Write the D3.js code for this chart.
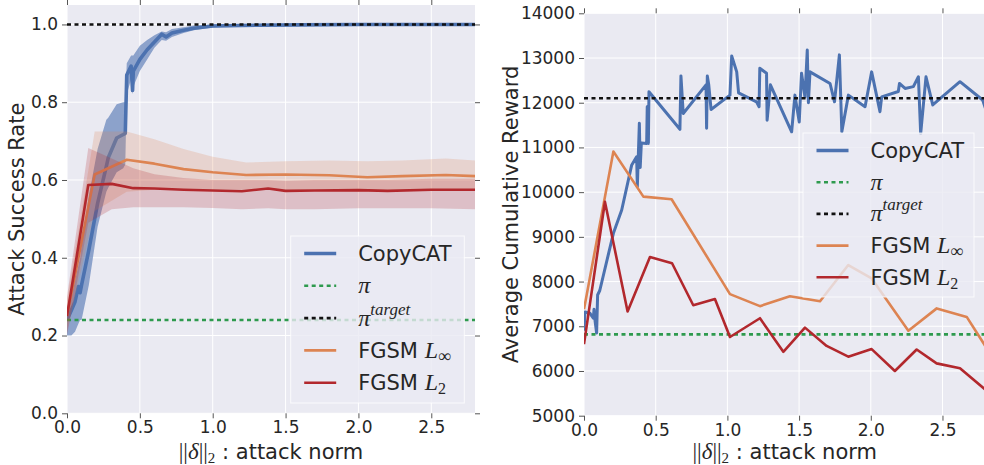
<!DOCTYPE html>
<html>
<head>
<meta charset="utf-8">
<script src="https://cdn.jsdelivr.net/npm/d3@7"></script>
<style>
  body { margin: 0; background: #fff; }
  text { font-family: "DejaVu Sans", sans-serif; fill: #262626; }
</style>
</head>
<body>
<div id="wrapper"></div>
<script>
// ---- Left panel: attack success rate ----
const blueX    = [0, 0.03, 0.055, 0.078, 0.09, 0.1, 0.15, 0.21, 0.27, 0.283, 0.341, 0.386, 0.4, 0.41, 0.44, 0.45, 0.455, 0.5, 0.55, 0.6, 0.65, 0.68, 0.72, 0.8, 0.87, 1.0, 1.3, 1.6, 2.0, 2.4, 2.8];
const blueMean = [0.24, 0.265, 0.287, 0.326, 0.31, 0.33, 0.42, 0.54, 0.635, 0.657, 0.708, 0.717, 0.72, 0.87, 0.893, 0.83, 0.88, 0.91, 0.935, 0.955, 0.975, 0.968, 0.978, 0.985, 0.99, 0.996, 0.998, 0.999, 1.0, 1.0, 1.0];
const blueLo   = [0.2, 0.2, 0.21, 0.23, 0.24, 0.24, 0.33, 0.48, 0.57, 0.58, 0.62, 0.63, 0.64, 0.82, 0.86, 0.82, 0.84, 0.88, 0.91, 0.94, 0.96, 0.958, 0.968, 0.978, 0.985, 0.992, 0.995, 0.996, 0.997, 0.997, 0.997];
const blueHi   = [0.27, 0.3, 0.34, 0.38, 0.4, 0.43, 0.56, 0.68, 0.755, 0.76, 0.795, 0.8, 0.8, 0.9, 0.92, 0.92, 0.92, 0.945, 0.96, 0.972, 0.982, 0.98, 0.988, 0.993, 0.997, 1.0, 1.0, 1.0, 1.0, 1.0, 1.0];

const orangeX    = [0, 0.19, 0.41, 0.6, 0.8, 1.0, 1.23, 1.5, 1.8, 2.06, 2.3, 2.6, 2.8];
const orangeMean = [0.25, 0.614, 0.652, 0.642, 0.628, 0.62, 0.613, 0.614, 0.612, 0.607, 0.61, 0.613, 0.61];
const orangeLo   = [0.21, 0.52, 0.57, 0.575, 0.575, 0.575, 0.575, 0.575, 0.572, 0.57, 0.572, 0.575, 0.572];
const orangeHi   = [0.29, 0.725, 0.725, 0.705, 0.68, 0.66, 0.645, 0.648, 0.65, 0.648, 0.65, 0.655, 0.65];

const redX    = [0, 0.146, 0.307, 0.455, 0.6, 0.8, 1.0, 1.2, 1.38, 1.5, 1.7, 2.0, 2.2, 2.5, 2.8];
const redMean = [0.25, 0.587, 0.59, 0.579, 0.578, 0.575, 0.573, 0.571, 0.578, 0.572, 0.573, 0.574, 0.572, 0.575, 0.575];
const redLo   = [0.2, 0.49, 0.525, 0.53, 0.53, 0.53, 0.528, 0.525, 0.527, 0.525, 0.525, 0.527, 0.527, 0.527, 0.525];
const redHi   = [0.3, 0.682, 0.655, 0.63, 0.615, 0.605, 0.6, 0.6, 0.6, 0.598, 0.6, 0.6, 0.6, 0.603, 0.603];

const piRate = 0.24;
const targetRate = 1.0;

// ---- Right panel: average cumulative reward ----
const rBlueX = [0, 0.007, 0.042, 0.065, 0.07, 0.078, 0.088, 0.095, 0.11, 0.205, 0.263, 0.332, 0.367, 0.372, 0.386, 0.392, 0.4, 0.437, 0.441, 0.449, 0.453, 0.669, 0.676, 0.692, 0.851, 0.855, 0.86, 0.87, 0.886, 1.018, 1.03, 1.065, 1.078, 1.203, 1.221, 1.226, 1.273, 1.277, 1.3, 1.448, 1.471, 1.501, 1.517, 1.541, 1.557, 1.565, 1.576, 1.716, 1.747, 1.781, 1.798, 1.844, 1.96, 2.006, 2.064, 2.076, 2.192, 2.2, 2.239, 2.297, 2.332, 2.348, 2.385, 2.432, 2.622, 2.78, 2.8];
const rBlueY = [6900, 7320, 7290, 7180, 7380, 7100, 6850, 7700, 7800, 9080, 9600, 10600, 10790, 10120, 11540, 10550, 11100, 11090, 11910, 11090, 12245, 11405, 12600, 11760, 12400, 11430, 12600, 12400, 11850, 12170, 13045, 12690, 12220, 12020, 11910, 12770, 12660, 11610, 12400, 11350, 12170, 11570, 12660, 12130, 13180, 12000, 12690, 12430, 12020, 13070, 11350, 12170, 11910, 12690, 11800, 12130, 12250, 12430, 12320, 12360, 12580, 11310, 12580, 11950, 12470, 12060, 11870];

const rOrangeX = [0, 0.205, 0.414, 0.611, 1.018, 1.227, 1.436, 1.646, 1.843, 2.006, 2.262, 2.46, 2.669, 2.8];
const rOrangeY = [7380, 10910, 9900, 9840, 7720, 7450, 7670, 7560, 8370, 8070, 6900, 7400, 7210, 6550];

const rRedX = [0, 0.146, 0.304, 0.46, 0.614, 0.762, 0.913, 1.018, 1.227, 1.39, 1.541, 1.692, 1.843, 2.006, 2.168, 2.32, 2.459, 2.622, 2.8];
const rRedY = [6600, 9785, 7330, 8550, 8410, 7470, 7610, 6760, 7180, 6430, 6970, 6560, 6320, 6490, 6000, 6480, 6170, 6060, 5580];

const piReward = 6820;
const targetReward = 12100;

const xTicks = [0, 0.5, 1.0, 1.5, 2.0, 2.5];
const rateTicks = [0, 0.2, 0.4, 0.6, 0.8, 1.0];
const rewardTicks = [5000, 6000, 7000, 8000, 9000, 10000, 11000, 12000, 13000, 14000];

const colors = { blue: "#4C72B0", orange: "#DD8452", red: "#B2282D", green: "#2E9A4E", black: "#111" };

const svg = d3.select("#wrapper")
    .append("svg")
    .attr("width", 984)
    .attr("height", 465);

const zip = (xs, ...cols) => xs.map((x, i) => ({ x, v: cols.map(c => c[i]) }));

function drawPanel(cfg) {
    const xScale = d3.scaleLinear().domain([0, 2.8]).range([cfg.left, cfg.right]);
    const yScale = d3.scaleLinear().domain(cfg.yDomain).range([cfg.bottom, cfg.top]);
    const g = svg.append("g");

    const clipId = "clip-" + cfg.id;
    svg.append("clipPath").attr("id", clipId)
        .append("rect")
        .attr("x", cfg.left).attr("y", cfg.top)
        .attr("width", cfg.right - cfg.left).attr("height", cfg.bottom - cfg.top);

    // background
    g.append("rect")
        .attr("x", cfg.left).attr("y", cfg.top)
        .attr("width", cfg.right - cfg.left).attr("height", cfg.bottom - cfg.top)
        .attr("fill", "#EAEAF2");

    // grid
    g.append("g").selectAll("line").data(xTicks).join("line")
        .attr("x1", d => xScale(d)).attr("x2", d => xScale(d))
        .attr("y1", cfg.top).attr("y2", cfg.bottom)
        .attr("stroke", "#fff").attr("stroke-width", 1);
    g.append("g").selectAll("line").data(cfg.yTicks).join("line")
        .attr("x1", cfg.left).attr("x2", cfg.right)
        .attr("y1", d => yScale(d)).attr("y2", d => yScale(d))
        .attr("stroke", "#fff").attr("stroke-width", 1);

    // axes
    const styleAxis = sel => {
        sel.select(".domain").remove();
        sel.selectAll(".tick line").attr("stroke", "#555");
        sel.selectAll("text")
            .style("font-family", "'DejaVu Sans', sans-serif")
            .style("font-size", "17px")
            .attr("fill", "#262626");
    };
    g.append("g").attr("transform", `translate(${cfg.left},0)`)
        .call(d3.axisLeft(yScale).tickValues(cfg.yTicks).tickFormat(cfg.yFormat).tickSize(5).tickPadding(4))
        .call(styleAxis);
    g.append("g").attr("transform", `translate(${cfg.right},0)`)
        .call(d3.axisRight(yScale).tickValues(cfg.yTicks).tickFormat("").tickSize(5))
        .call(styleAxis);
    g.append("g").attr("transform", `translate(0,${cfg.bottom})`)
        .call(d3.axisBottom(xScale).tickValues(xTicks).tickFormat(d3.format(".1f")).tickSize(5).tickPadding(3))
        .call(styleAxis);
    g.append("g").attr("transform", `translate(0,${cfg.top})`)
        .call(d3.axisTop(xScale).tickValues(xTicks).tickFormat("").tickSize(5))
        .call(styleAxis);

    // plot content
    const plot = g.append("g").attr("clip-path", `url(#${clipId})`);
    const area = d3.area().x(d => xScale(d.x)).y0(d => yScale(d.v[1])).y1(d => yScale(d.v[2]));
    const line = d3.line().x(d => xScale(d.x)).y(d => yScale(d.v[0]));

    cfg.series.forEach(s => {
        if (s.band) {
            plot.append("path")
                .datum(zip(s.x, s.mean, s.lo, s.hi))
                .attr("d", area)
                .attr("fill", s.color)
                .attr("fill-opacity", s.bandOpacity);
        }
        if (s.hline !== undefined) {
            plot.append("line")
                .attr("x1", cfg.left).attr("x2", cfg.right)
                .attr("y1", yScale(s.hline)).attr("y2", yScale(s.hline))
                .attr("stroke", s.color).attr("stroke-width", 2.6)
                .attr("stroke-dasharray", "4,3.5");
        } else {
            plot.append("path")
                .datum(zip(s.x, s.mean))
                .attr("d", line)
                .attr("fill", "none")
                .attr("stroke", s.color)
                .attr("stroke-width", s.width)
                .attr("stroke-linejoin", "round");
        }
    });

    // axis labels
    svg.append("text")
        .attr("transform", `translate(${cfg.yLabelX},${(cfg.top + cfg.bottom) / 2}) rotate(-90)`)
        .attr("text-anchor", "middle")
        .style("font-size", "21px")
        .text(cfg.yLabel);

    const xl = svg.append("text")
        .attr("x", (cfg.left + cfg.right) / 2)
        .attr("y", 459)
        .attr("text-anchor", "middle")
        .style("font-size", "21px");
    xl.append("tspan").style("font-family", "'Liberation Serif', serif").style("font-size", "23px").text("||");
    xl.append("tspan").style("font-family", "'Liberation Serif', serif").style("font-style", "italic").style("font-size", "23px").text("δ");
    xl.append("tspan").style("font-family", "'Liberation Serif', serif").style("font-size", "23px").text("||");
    xl.append("tspan").style("font-family", "'Liberation Serif', serif").style("font-size", "15px").attr("dy", 4).text("2");
    xl.append("tspan").attr("dy", -4).text(" : attack norm");

    // legend
    const lg = svg.append("g");
    const box = cfg.legend;
    lg.append("rect")
        .attr("x", box.x).attr("y", box.y)
        .attr("width", box.w).attr("height", box.h)
        .attr("fill", "#EAEAF2").attr("fill-opacity", 0.8)
        .attr("stroke", "#fff").attr("stroke-opacity", 0.8);
    const entries = [
        { color: colors.blue, width: 3.6, dash: null, label: "copycat" },
        { color: colors.green, width: 2.6, dash: "4,3.5", label: "pi" },
        { color: colors.black, width: 2.6, dash: "4,3.5", label: "target" },
        { color: colors.orange, width: 2.6, dash: null, label: "linf" },
        { color: colors.red, width: 2.6, dash: null, label: "l2" },
    ];
    entries.forEach((e, i) => {
        const cy = box.y + 17.5 + i * box.step;
        lg.append("line")
            .attr("x1", box.x + 13.5).attr("x2", box.x + 45.5)
            .attr("y1", cy).attr("y2", cy)
            .attr("stroke", e.color).attr("stroke-width", e.width)
            .attr("stroke-dasharray", e.dash);
        const t = lg.append("text")
            .attr("x", box.x + 67.5)
            .attr("y", cy + 7.5)
            .style("font-size", "21px");
        const serif = (sel, size, italic) => sel
            .style("font-family", "'Liberation Serif', serif")
            .style("font-style", italic ? "italic" : "normal")
            .style("font-size", size + "px");
        if (e.label === "copycat") t.text("CopyCAT");
        if (e.label === "pi") serif(t.append("tspan"), 24, true).text("π");
        if (e.label === "target") {
            serif(t.append("tspan"), 24, true).text("π");
            serif(t.append("tspan"), 17, true).attr("dy", -11).text("target");
        }
        if (e.label === "linf") {
            t.append("tspan").text("FGSM ");
            serif(t.append("tspan"), 24, true).text("L");
            serif(t.append("tspan"), 18, false).attr("dy", 4).text("∞");
        }
        if (e.label === "l2") {
            t.append("tspan").text("FGSM ");
            serif(t.append("tspan"), 24, true).text("L");
            serif(t.append("tspan"), 16, false).attr("dy", 4).text("2");
        }
    });
}

drawPanel({
    id: "rate",
    left: 67, right: 475, top: 5, bottom: 413.3,
    yDomain: [0, 1.05],
    yTicks: rateTicks,
    yFormat: d3.format(".1f"),
    yLabel: "Attack Success Rate",
    yLabelX: 24,
    series: [
        { x: blueX, mean: blueMean, lo: blueLo, hi: blueHi, color: colors.blue, width: 3.6, band: true, bandOpacity: 0.6 },
        { hline: piRate, color: colors.green },
        { hline: targetRate, color: colors.black },
        { x: orangeX, mean: orangeMean, lo: orangeLo, hi: orangeHi, color: colors.orange, width: 2.6, band: true, bandOpacity: 0.22 },
        { x: redX, mean: redMean, lo: redLo, hi: redHi, color: colors.red, width: 2.6, band: true, bandOpacity: 0.22 },
    ],
    legend: { x: 290.7, y: 236, w: 173.6, h: 167, step: 32.3 },
});

drawPanel({
    id: "reward",
    left: 584, right: 985.5, top: 13.3, bottom: 415.7,
    yDomain: [5000, 14000],
    yTicks: rewardTicks,
    yFormat: d3.format("d"),
    yLabel: "Average Cumulative Reward",
    yLabelX: 518,
    series: [
        { x: rBlueX, mean: rBlueY, color: colors.blue, width: 3 },
        { hline: piReward, color: colors.green },
        { hline: targetReward, color: colors.black },
        { x: rOrangeX, mean: rOrangeY, color: colors.orange, width: 2.6 },
        { x: rRedX, mean: rRedY, color: colors.red, width: 2.6 },
    ],
    legend: { x: 803, y: 133, w: 171, h: 164, step: 31.7 },
});
</script>
</body>
</html>
